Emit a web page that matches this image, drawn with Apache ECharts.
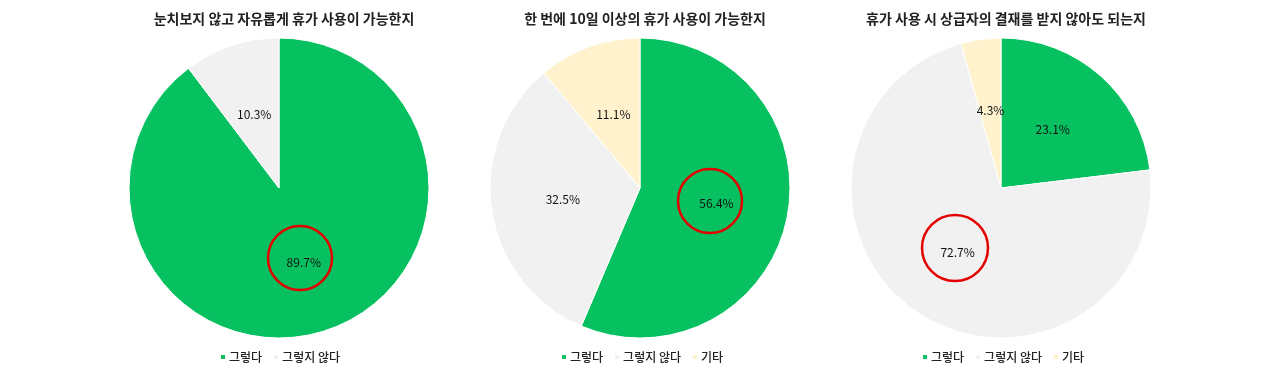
<!DOCTYPE html>
<html><head><meta charset="utf-8">
<script src="https://cdn.jsdelivr.net/npm/echarts@6/dist/echarts.min.js"></script>
<style>html,body{margin:0;padding:0;background:#fff}#c{width:1280px;height:371px}</style>
</head><body><div id="c"></div>
<script>
const titles = ['눈치보지 않고 자유롭게 휴가 사용이 가능한지', '한 번에 10일 이상의 휴가 사용이 가능한지', '휴가 사용 시 상급자의 결재를 받지 않아도 되는지'];
const cats1 = ['그렇다', '그렇지 않다'];
const cats23 = ['그렇다', '그렇지 않다', '기타'];
const vals1 = [89.7, 10.3];
const vals2 = [56.4, 32.5, 11.1];
const vals3 = [23.1, 72.7, 4.3];
const colors = {'그렇다': '#07C160', '그렇지 않다': '#F1F1F1', '기타': '#FFF2CC'};
const centersX = [279, 640, 1001];
const FONT = '"Noto Sans CJK KR", "Noto Sans", sans-serif';

function mk(cats, vals) { return cats.map((n, i) => ({name: n, value: vals[i], itemStyle: {color: colors[n]}})); }
const datasets = [mk(cats1, vals1), mk(cats23, vals2), mk(cats23, vals3)];
const legendCats = [cats1, cats23, cats23];
const legendLeft = [214, 555, 916];
// highlighted labels (circled) : [cx, cy, r]
const rings = [[300, 258, 32], [710, 201, 32], [955, 248, 33]];

const chart = echarts.init(document.getElementById('c'));
chart.setOption({
  animation: false,
  title: titles.map((t, i) => ({text: t, left: centersX[i], top: 7, textAlign: 'center',
    textStyle: {fontFamily: FONT, fontSize: 14, fontWeight: 600, color: '#222'}})),
  legend: legendCats.map((c, i) => ({data: c, left: legendLeft[i], top: 346, icon: 'rect', itemWidth: 6, itemHeight: 6,
    itemGap: 10, textStyle: {fontFamily: FONT, fontSize: 12, fontWeight: 500, color: '#222', padding: [0, 0, 0, -2]}, selectedMode: false})),
  series: datasets.map((d, i) => ({
    type: 'pie', center: [centersX[i], 188], radius: [0, 150], startAngle: 90, clockwise: true,
    data: d, itemStyle: {borderColor: '#fff', borderWidth: 1},
    label: {show: true, position: 'inside', formatter: '{c}%', fontFamily: FONT, fontSize: 12, color: '#111'},
    labelLine: {show: false}, emphasis: {disabled: true}
  })),
  graphic: rings.map(r => ({type: 'circle', shape: {cx: r[0], cy: r[1], r: r[2]}, z: 100,
    style: {fill: 'none', stroke: '#E50000', lineWidth: 2.5}}))
});
</script></body></html>
